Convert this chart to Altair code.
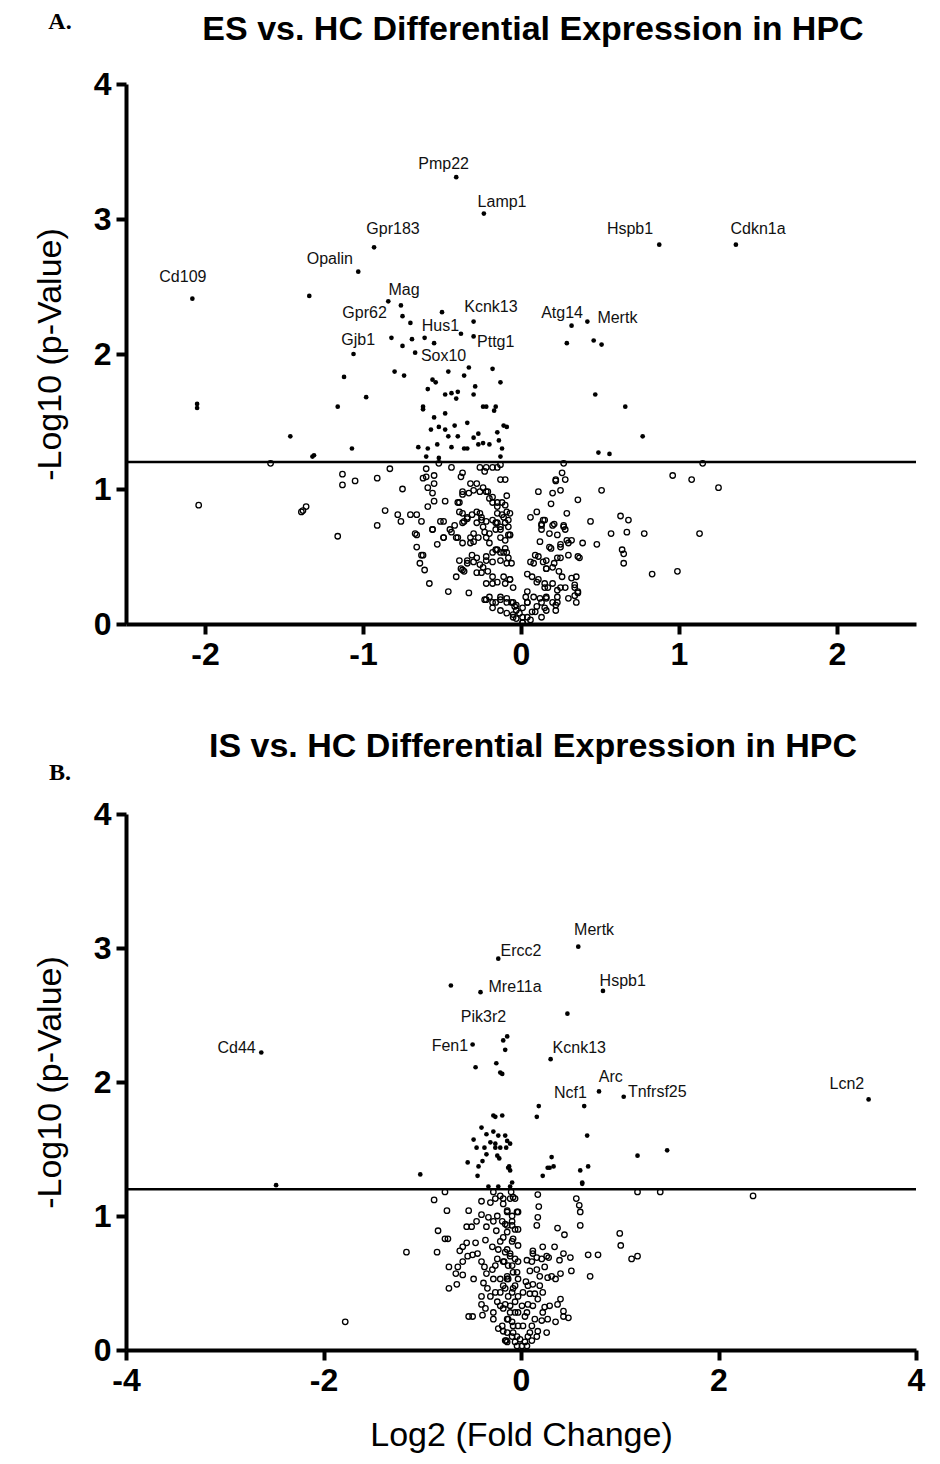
import altair as alt
import pandas as pd

SANS = "Liberation Sans"
SERIF = "Liberation Serif"

THRESHOLD = 1.2

# ---------------- Panel A : ES vs HC ----------------
a_sig = [
    (-0.41, 3.31), (-0.235, 3.04), (-0.93, 2.79), (-1.03, 2.61), (-2.08, 2.41), (-1.34, 2.43),
    (-0.84, 2.39), (-0.76, 2.36), (-0.75, 2.28), (-0.70, 2.23), (-0.50, 2.31), (-0.30, 2.24),
    (-0.38, 2.15), (-0.30, 2.13), (-1.06, 2.00), (-0.82, 2.12), (-0.75, 2.06), (-0.69, 2.11),
    (-0.61, 2.12), (-0.55, 2.08), (-0.67, 2.01),
    (-1.12, 1.83), (-0.80, 1.87), (-0.74, 1.84), (-0.46, 1.87), (-0.36, 1.84), (-0.33, 1.90),
    (-0.18, 1.89), (-0.13, 1.79), (-0.56, 1.81), (-0.54, 1.79), (-0.59, 1.74), (-0.48, 1.70),
    (-0.44, 1.71), (-0.40, 1.72), (-0.41, 1.67), (-0.29, 1.76), (-0.30, 1.70), (-0.62, 1.61),
    (-0.62, 1.59), (-0.48, 1.56), (-0.24, 1.61), (-0.22, 1.61), (-0.16, 1.61), (-0.17, 1.58),
    (-0.55, 1.53), (-0.34, 1.49), (-0.52, 1.46), (-0.57, 1.44), (-0.48, 1.44), (-0.42, 1.47),
    (-0.46, 1.39), (-0.40, 1.39), (-0.27, 1.41), (-0.30, 1.38), (-0.27, 1.33), (-0.24, 1.34),
    (-0.20, 1.33), (-0.14, 1.36), (-0.15, 1.42), (-0.11, 1.47), (-0.09, 1.46), (-0.65, 1.31),
    (-0.59, 1.30), (-0.53, 1.33), (-0.44, 1.31), (-0.36, 1.30), (-0.34, 1.30), (-0.12, 1.30),
    (-0.60, 1.24), (-0.52, 1.23), (-0.13, 1.24),
    (-2.05, 1.63), (-2.05, 1.60), (-1.16, 1.61), (-0.98, 1.68), (-1.46, 1.39), (-1.07, 1.30),
    (-1.32, 1.24), (-1.31, 1.25),
    (0.875, 2.81), (1.36, 2.81), (0.32, 2.21), (0.42, 2.24), (0.29, 2.08), (0.46, 2.10),
    (0.51, 2.07), (0.47, 1.70), (0.77, 1.39), (0.49, 1.27), (0.56, 1.26), (0.66, 1.61),
]

a_ns = [
    (-1.585, 1.19), (-2.04, 0.88), (-1.38, 0.84), (-1.36, 0.87), (-1.39, 0.83), (-1.13, 1.11),
    (-1.13, 1.03), (-1.05, 1.06), (-1.16, 0.65), (-0.91, 1.08), (-0.91, 0.73), (-0.86, 0.84),
    (-0.83, 1.15), (-0.78, 0.81), (-0.76, 0.76), (-0.75, 1.00), (-0.70, 0.81), (-0.66, 0.81),
    (-0.63, 0.76), (-0.66, 0.66), (-0.66, 0.57), (-0.62, 0.51), (-0.64, 0.45), (-0.61, 0.40),
    (-0.58, 0.30), (-0.60, 1.15), (-0.62, 1.08), (-0.60, 1.09), (-0.55, 1.10), (-0.59, 1.01),
    (-0.56, 0.97), (-0.55, 1.04), (-0.55, 0.91), (-0.59, 0.87), (-0.48, 0.91), (-0.51, 0.76),
    (-0.49, 0.76), (-0.56, 0.70), (-0.53, 0.59), (-0.49, 0.64), (-0.46, 0.24), (-0.41, 0.35),
    (-0.33, 0.23), (-0.44, 0.68), (-0.40, 0.64), (-0.37, 0.60), (-0.44, 1.16), (-0.38, 1.09),
    (-0.37, 1.12), (-0.52, 1.19), (-0.39, 0.90), (-0.37, 0.96), (-0.37, 0.82), (-0.36, 0.76),
    (-0.34, 0.79), (-0.32, 0.64), (-0.32, 0.60), (-0.30, 0.67), (-0.28, 0.75), (-0.26, 0.82),
    (-0.25, 0.77), (-0.24, 0.72), (-0.22, 0.64), (-0.28, 1.04), (-0.30, 0.99), (-0.24, 1.01),
    (-0.21, 0.98), (-0.26, 1.16), (-0.22, 1.16), (-0.18, 1.16), (-0.15, 1.16), (-0.13, 1.18),
    (-0.20, 0.93), (-0.18, 0.90), (-0.15, 0.87), (-0.12, 0.90), (-0.09, 0.95), (-0.10, 1.07),
    (-0.13, 1.07), (-0.15, 0.82), (-0.11, 0.79), (-0.15, 0.75), (-0.13, 0.70), (-0.08, 0.72),
    (-0.10, 0.75), (-0.07, 0.66), (-0.20, 0.60), (-0.15, 0.55), (-0.11, 0.53), (-0.09, 0.53),
    (-0.22, 0.50), (-0.18, 0.46), (-0.13, 0.47), (-0.09, 0.45), (-0.39, 0.47), (-0.34, 0.45),
    (-0.30, 0.46), (-0.24, 0.42), (-0.37, 0.40), (-0.28, 0.38), (-0.22, 0.30), (-0.18, 0.30),
    (-0.11, 0.35), (-0.07, 0.33), (-0.05, 0.27), (-0.22, 0.18), (-0.18, 0.16), (-0.13, 0.20),
    (-0.09, 0.16), (-0.05, 0.16), (-0.03, 0.10), (-0.01, 0.08), (0.01, 0.05), (-0.05, 0.05),
    (0.01, 0.01),
    (-0.23, 1.13), (-0.32, 1.04), (-0.26, 0.98), (-0.22, 0.98), (-0.40, 0.90), (-0.37, 0.98),
    (-0.33, 0.97), (-0.39, 0.83), (-0.18, 0.94), (-0.15, 0.90), (-0.10, 0.88), (-0.09, 0.83),
    (-0.12, 0.81), (-0.45, 0.70), (-0.42, 0.73), (-0.37, 0.75), (-0.34, 0.78), (-0.31, 0.81),
    (-0.28, 0.83), (-0.25, 0.79), (-0.22, 0.76), (-0.18, 0.77), (-0.16, 0.75), (-0.13, 0.72),
    (-0.08, 0.77), (-0.67, 0.67), (-0.56, 0.70), (-0.49, 0.64), (-0.41, 0.64), (-0.30, 0.61),
    (-0.27, 0.64), (-0.23, 0.68), (-0.20, 0.67), (-0.16, 0.70), (-0.13, 0.64), (-0.10, 0.62),
    (-0.08, 0.66), (-0.63, 0.51), (-0.38, 0.41), (-0.36, 0.39), (-0.34, 0.47), (-0.31, 0.51),
    (-0.28, 0.49), (-0.26, 0.44), (-0.22, 0.47), (-0.18, 0.53), (-0.16, 0.55), (-0.13, 0.53),
    (-0.10, 0.56), (-0.08, 0.49), (-0.25, 0.38), (-0.21, 0.39), (-0.18, 0.35), (-0.15, 0.31),
    (-0.10, 0.30), (-0.07, 0.33), (-0.23, 0.18), (-0.20, 0.20), (-0.16, 0.16), (-0.13, 0.18),
    (-0.09, 0.19), (-0.06, 0.16), (-0.04, 0.13), (-0.18, 0.12), (-0.13, 0.10), (-0.09, 0.08),
    (-0.05, 0.07), (-0.03, 0.04), (0.01, 0.01), (0.04, 0.05), (0.07, 0.09), (0.10, 0.13),
    (0.13, 0.16), (0.16, 0.10), (0.20, 0.16),
    (0.27, 1.19), (0.26, 1.12), (0.22, 1.06), (0.11, 0.98), (0.20, 0.97), (0.25, 0.99),
    (0.19, 0.89), (0.36, 0.92), (0.51, 0.99), (0.10, 0.83), (0.29, 0.82), (0.06, 0.79),
    (0.15, 0.77), (0.13, 0.74), (0.13, 0.70), (0.21, 0.74), (0.27, 0.72), (0.28, 0.70),
    (0.18, 0.67), (0.23, 0.66), (0.44, 0.76), (0.63, 0.80), (0.68, 0.77), (0.57, 0.67),
    (0.67, 0.68), (0.78, 0.67), (1.13, 0.67), (0.96, 1.10), (1.08, 1.07), (1.25, 1.01),
    (1.15, 1.19), (0.39, 0.60), (0.48, 0.59), (0.29, 0.62), (0.30, 0.60), (0.25, 0.57),
    (0.19, 0.56), (0.12, 0.61), (0.64, 0.55), (0.65, 0.52), (0.65, 0.45), (0.83, 0.37),
    (0.99, 0.39), (0.30, 0.51), (0.36, 0.50), (0.37, 0.49), (0.23, 0.49), (0.16, 0.47),
    (0.09, 0.51), (0.06, 0.46), (0.21, 0.45), (0.16, 0.41), (0.24, 0.39), (0.26, 0.35),
    (0.32, 0.34), (0.34, 0.29), (0.36, 0.24), (0.34, 0.21), (0.35, 0.16), (0.15, 0.30),
    (0.17, 0.27), (0.10, 0.31), (0.04, 0.37), (0.25, 0.27), (0.23, 0.20), (0.16, 0.20),
    (0.22, 0.14), (0.22, 0.10), (0.15, 0.12), (0.13, 0.05), (0.03, 0.20), (0.04, 0.16),
    (0.09, 0.09), (0.06, 0.03), (-0.03, 0.14), (-0.07, 0.82), (-0.07, 0.66), (-0.06, 0.45),
    (0.28, 1.07), (0.22, 1.07), (0.14, 0.77), (0.13, 0.73), (0.20, 0.73), (0.27, 0.73),
    (0.32, 0.62), (0.25, 0.59), (0.18, 0.57), (0.11, 0.50), (0.08, 0.45), (0.14, 0.46),
    (0.16, 0.41), (0.20, 0.42), (0.25, 0.49), (0.07, 0.35), (0.11, 0.33), (0.15, 0.27),
    (0.20, 0.30), (0.23, 0.25), (0.28, 0.27), (0.04, 0.24), (0.08, 0.20), (0.12, 0.19),
    (0.16, 0.19), (0.23, 0.16), (0.30, 0.19), (0.34, 0.27), (0.35, 0.35), (0.36, 0.23),
    (0.04, 0.16), (0.01, 0.12),
]

a_lab = ["Pmp22", "Lamp1", "Gpr183", "Opalin", "Cd109", "Mag", "Gpr62", "Kcnk13",
         "Hus1", "Gjb1", "Pttg1", "Sox10", "Hspb1", "Cdkn1a", "Atg14", "Mertk"]
a_lab_x = [-0.49, -0.12, -0.81, -1.21, -2.14, -0.74, -0.99, -0.19,
           -0.51, -1.03, -0.16, -0.49, 0.69, 1.50, 0.26, 0.61]
a_lab_y = [3.37, 3.09, 2.89, 2.67, 2.53, 2.44, 2.27, 2.31,
           2.17, 2.07, 2.05, 1.95, 2.89, 2.89, 2.27, 2.23]

# ---------------- Panel B : IS vs HC ----------------
b_sig = [
    (-0.23, 2.92), (-0.71, 2.72), (-0.41, 2.67), (-2.63, 2.22), (-0.49, 2.28), (-0.14, 2.34),
    (-0.18, 2.31), (-0.16, 2.24), (-0.46, 2.11), (-0.25, 2.14), (-0.21, 2.07), (-0.19, 2.06),
    (0.18, 1.82), (0.16, 1.74), (-0.28, 1.75), (-0.26, 1.74), (-0.19, 1.75), (-0.40, 1.66),
    (-0.28, 1.63), (-0.35, 1.61), (-0.23, 1.60), (-0.16, 1.60), (-0.48, 1.57), (-0.31, 1.55),
    (-0.26, 1.54), (-0.14, 1.56), (-0.11, 1.54), (-0.45, 1.51), (-0.37, 1.51), (-0.26, 1.51),
    (-0.21, 1.51), (-0.15, 1.51), (-0.35, 1.46), (-0.24, 1.45), (-0.22, 1.43), (-0.39, 1.41),
    (-0.54, 1.40), (-0.43, 1.37), (-0.12, 1.37), (-0.11, 1.34), (-1.02, 1.31), (-0.44, 1.30),
    (-0.09, 1.25), (-2.48, 1.23), (0.22, 1.30), (0.27, 1.36), (-0.33, 1.22), (-0.23, 1.22),
    (-0.11, 1.22),
    (0.58, 3.01), (0.83, 2.68), (0.47, 2.51), (0.30, 2.17), (0.79, 1.93), (1.04, 1.89),
    (0.64, 1.82), (3.52, 1.87), (0.67, 1.60), (1.48, 1.49), (1.18, 1.45), (0.31, 1.44),
    (0.29, 1.36), (0.33, 1.37), (0.60, 1.34), (0.68, 1.37), (0.62, 1.25), (0.62, 1.24),
    (-0.13, 1.36),
]

b_ns = [
    (-0.77, 1.18), (0.17, 1.16), (1.18, 1.18), (1.41, 1.18), (2.35, 1.15), (-0.88, 1.12),
    (-0.75, 1.04), (-0.84, 0.89), (-0.77, 0.83), (-0.74, 0.83), (-1.16, 0.73), (-0.85, 0.73),
    (-0.73, 0.62), (-0.65, 0.49), (-0.73, 0.46), (-0.64, 0.62), (-0.59, 0.56), (-0.66, 0.57),
    (-0.48, 0.53), (-0.53, 0.25), (-0.49, 0.25), (-1.78, 0.21), (-0.39, 0.26), (-0.40, 1.11),
    (-0.53, 1.04), (-0.31, 1.10), (-0.40, 1.01), (-0.33, 0.99), (-0.55, 0.92), (-0.50, 0.92),
    (-0.35, 0.92), (-0.45, 0.96), (-0.25, 0.89), (-0.36, 0.82), (-0.62, 0.74), (-0.59, 0.77),
    (-0.55, 0.80), (-0.46, 0.80), (-0.54, 0.70), (-0.49, 0.71), (-0.44, 0.72), (-0.59, 0.66),
    (-0.40, 0.66), (-0.37, 0.62), (-0.29, 0.60), (-0.35, 0.57), (-0.28, 0.53), (-0.38, 0.50),
    (-0.40, 0.40), (-0.31, 0.40), (-0.40, 0.34), (-0.36, 0.31), (-0.28, 0.28), (-0.28, 0.23),
    (-0.23, 0.16), (-0.16, 0.07), (-0.21, 0.33), (-0.21, 0.43), (-0.24, 0.68), (-0.23, 0.75),
    (-0.21, 0.81), (-0.19, 0.96), (-0.24, 1.00), (-0.21, 1.15), (-0.14, 1.03), (-0.14, 0.88),
    (-0.16, 0.73), (-0.13, 0.63), (-0.14, 0.53), (-0.13, 0.40), (-0.11, 0.28), (-0.09, 0.21),
    (-0.08, 0.13), (-0.06, 0.06), (-0.04, 0.03), (-0.09, 0.96), (-0.09, 0.81), (-0.11, 0.70),
    (-0.08, 0.58), (-0.08, 0.46), (-0.06, 0.36),
    (-0.28, 1.18), (-0.26, 1.13), (-0.18, 1.09), (-0.11, 1.13), (-0.28, 0.96), (-0.14, 0.93),
    (-0.29, 0.77), (-0.18, 0.66), (-0.26, 0.63), (-0.21, 0.53), (-0.34, 0.46), (-0.26, 0.43),
    (-0.18, 0.48), (-0.24, 0.36), (-0.18, 0.31), (-0.13, 0.23), (-0.19, 0.18), (-0.14, 0.13),
    (-0.09, 0.10), (-0.14, 0.06), (-0.04, 0.10), (-0.03, 0.18), (-0.03, 0.28), (-0.03, 0.40),
    (-0.03, 0.53), (-0.03, 0.66), (-0.03, 0.78), (-0.03, 0.90), (-0.03, 1.03), (-0.06, 1.13),
    (-0.04, 1.03), (-0.06, 0.90), (-0.06, 0.68), (-0.04, 0.58), (-0.06, 0.48), (-0.06, 0.28),
    (-0.08, 0.18), (0.02, 0.18), (0.04, 0.25), (0.01, 0.33), (0.02, 0.43), (0.07, 0.48),
    (0.12, 0.33), (0.14, 0.42), (0.11, 0.66), (0.19, 0.55), (0.21, 0.68), (0.12, 0.72),
    (0.26, 0.70), (0.31, 0.55), (0.22, 0.28), (0.27, 0.23), (0.16, 0.10), (0.11, 0.07),
    (0.06, 0.03),
    (0.18, 1.07), (0.17, 0.99), (0.16, 0.93), (0.56, 1.13), (0.59, 1.08), (0.60, 1.03),
    (0.60, 0.93), (0.37, 0.91), (0.44, 0.86), (1.00, 0.87), (1.01, 0.78), (1.12, 0.68),
    (1.18, 0.70), (0.68, 0.71), (0.78, 0.71), (0.70, 0.55), (0.51, 0.59), (0.22, 0.77),
    (0.34, 0.77), (0.12, 0.74), (0.06, 0.67), (0.16, 0.69), (0.28, 0.69), (0.39, 0.67),
    (0.43, 0.72), (0.50, 0.69), (0.09, 0.59), (0.16, 0.60), (0.24, 0.62), (0.27, 0.54),
    (0.35, 0.53), (0.40, 0.57), (0.05, 0.51), (0.12, 0.49), (0.19, 0.48), (0.22, 0.43),
    (0.09, 0.42), (0.07, 0.34), (0.17, 0.38), (0.24, 0.32), (0.29, 0.33), (0.37, 0.34),
    (0.40, 0.38), (0.43, 0.29), (0.43, 0.25), (0.48, 0.24), (0.35, 0.21), (0.21, 0.22),
    (0.14, 0.23), (0.26, 0.13), (0.17, 0.14), (0.09, 0.13), (0.11, 0.18), (0.06, 0.28),
    (0.07, 0.10), (0.04, 0.06), (-0.15, 0.07), (-0.18, 0.14), (-0.14, 0.23), (-0.11, 0.33),
    (-0.09, 0.43), (-0.13, 0.53), (-0.09, 0.63), (-0.11, 0.72), (-0.08, 0.83), (-0.09, 0.93),
    (-0.09, 1.00), (-0.18, 1.13), (-0.10, 1.18), (-0.08, 1.14), (-0.14, 1.04), (-0.16, 0.94),
    (-0.18, 0.84), (-0.14, 0.75), (-0.17, 0.66), (-0.14, 0.55), (-0.16, 0.46), (-0.16, 0.34),
    (-0.01, 0.08), (0.01, 0.03),
]

b_lab = ["Ercc2", "Mre11a", "Pik3r2", "Cd44", "Fen1", "Mertk", "Hspb1", "Kcnk13",
         "Arc", "Ncf1", "Tnfrsf25", "Lcn2"]
b_lab_x = [0.00, -0.06, -0.38, -2.88, -0.72, 0.74, 1.03, 0.59, 0.91, 0.50, 1.38, 3.30]
b_lab_y = [2.94, 2.67, 2.45, 2.22, 2.23, 3.10, 2.72, 2.22, 2.00, 1.88, 1.89, 1.95]

a_xticks = [-2, -1, 0, 1, 2]
b_xticks = [-4, -2, 0, 2, 4]
yticks = [0, 1, 2, 3, 4]


def panel(sig, ns, lab, lab_x, lab_y, xdom, xticks, title, title_y,
          letter, letter_y, height, xtitle):
    xscale = alt.Scale(domain=xdom, nice=False, zero=False)
    yscale = alt.Scale(domain=[0, 4], nice=False, zero=False)
    xaxis = alt.Axis(values=xticks, labelExpr="'' + datum.value", title=xtitle,
                     labelFlush=False)
    yaxis = alt.Axis(values=yticks, labelExpr="'' + datum.value", title="-Log10 (p-Value)",
                     labelFlush=False)

    def enc(ch):
        return ch.encode(
            x=alt.X("x:Q", scale=xscale, axis=xaxis),
            y=alt.Y("y:Q", scale=yscale, axis=yaxis),
        )

    ns_df = pd.DataFrame(ns, columns=["x", "y"])
    sig_df = pd.DataFrame(sig, columns=["x", "y"])
    lab_df = pd.DataFrame({"x": lab_x, "y": lab_y, "t": lab})

    open_pts = enc(alt.Chart(ns_df).mark_point(
        shape="circle", filled=False, color="black", strokeWidth=1.3, size=30, opacity=1))
    fill_pts = enc(alt.Chart(sig_df).mark_circle(color="black", size=22, opacity=1))
    rule = alt.Chart(pd.DataFrame({"y": [THRESHOLD]})).mark_rule(
        color="black", strokeWidth=2.5).encode(y=alt.Y("y:Q", scale=yscale, axis=yaxis))
    labels = enc(alt.Chart(lab_df).mark_text(
        font=SANS, fontSize=16, align="center", baseline="alphabetic", color="#111")
    ).encode(text="t:N")
    letter_mark = alt.Chart(pd.DataFrame({"t": [letter]})).mark_text(
        font=SERIF, fontWeight="bold", fontSize=24, align="center", baseline="middle",
        color="black").encode(x=alt.value(-66), y=alt.value(letter_y), text="t:N")
    title_mark = alt.Chart(pd.DataFrame({"t": [title]})).mark_text(
        font=SANS, fontWeight="bold", fontSize=34, align="center", baseline="middle",
        color="black").encode(x=alt.value(407), y=alt.value(title_y), text="t:N")

    return alt.layer(open_pts, rule, fill_pts, labels, letter_mark, title_mark).properties(
        width=790, height=height,
    )


chart_a = panel(a_sig, a_ns, a_lab, a_lab_x, a_lab_y, [-2.5, 2.5], a_xticks,
                "ES vs. HC Differential Expression in HPC", -54, "A.", -62, 540, None)
chart_b = panel(b_sig, b_ns, b_lab, b_lab_x, b_lab_y, [-4, 4], b_xticks,
                "IS vs. HC Differential Expression in HPC", -67, "B.", -41, 536,
                "Log2 (Fold Change)")

chart = alt.vconcat(chart_a, chart_b, spacing=60).properties(
    padding={"left": 25, "top": 2, "right": 5, "bottom": 3}
).configure_view(stroke=None).configure_axis(
    grid=False,
    domainColor="black", domainWidth=4,
    tickColor="black", tickWidth=4, tickSize=10,
    labelFont=SANS, labelFontWeight="bold", labelFontSize=32, labelColor="black",
    labelPadding=5,
    titleFont=SANS, titleFontWeight="normal", titleFontSize=34, titleColor="black",
).configure_axisLeft(titlePadding=26).configure_axisBottom(titlePadding=22)

chart.save("out.html", embed_options={"renderer": "svg", "actions": False})
